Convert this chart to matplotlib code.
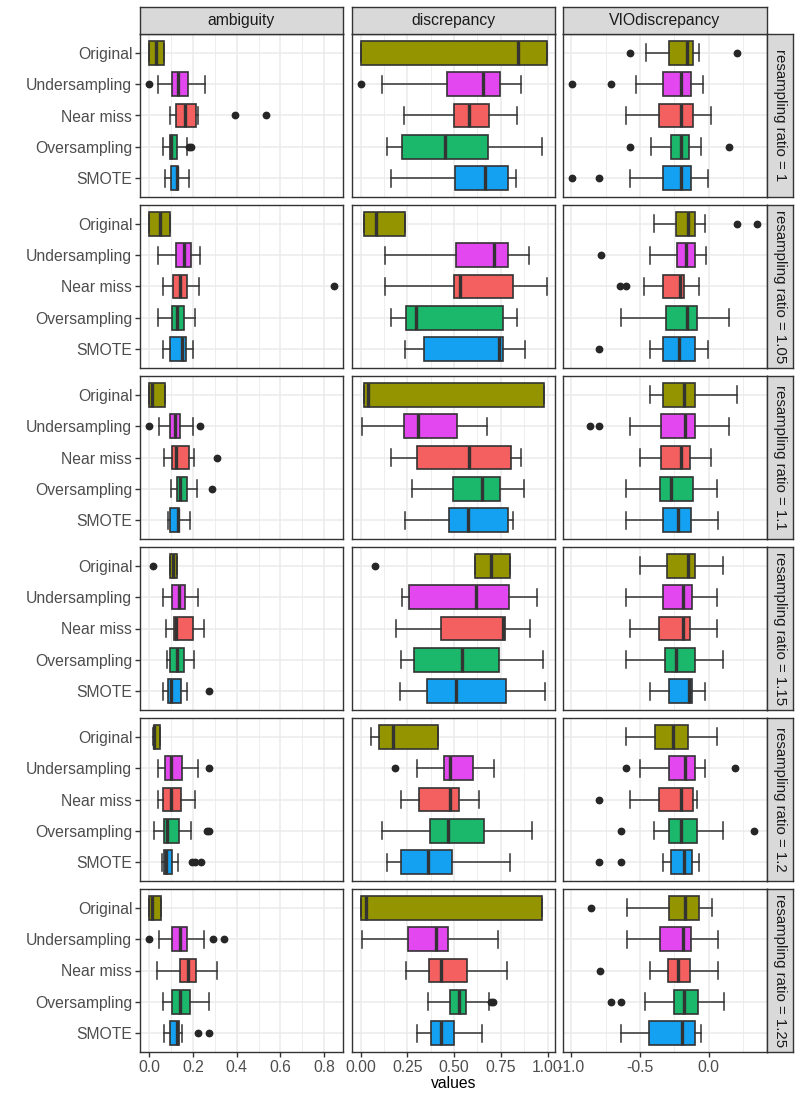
import matplotlib
matplotlib.use("Agg")
import matplotlib.pyplot as plt
from matplotlib.ticker import FixedLocator

plt.rcParams["font.family"] = ["Liberation Sans", "DejaVu Sans"]

methods = ["Original", "Undersampling", "Near miss", "Oversampling", "SMOTE"]
ratios = ["1", "1.05", "1.1", "1.15", "1.2", "1.25"]
metrics = ["ambiguity", "discrepancy", "VIOdiscrepancy"]
fills = ["#949400", "#E348F0", "#F45F5F", "#1BB76B", "#14A1F2"]

# rows = resampling ratio, columns = methods (order as in `methods`)
amb_lo = [[0.0, 0.040, 0.095, 0.062, 0.070],
          [0.0, 0.040, 0.062, 0.039, 0.061],
          [0.0, 0.046, 0.068, 0.099, 0.084],
          [0.097, 0.062, 0.075, 0.083, 0.062],
          [0.018, 0.042, 0.042, 0.024, 0.057],
          [0.0, 0.046, 0.037, 0.061, 0.066]]
amb_q1 = [[0.0, 0.106, 0.121, 0.094, 0.099],
          [0.0, 0.123, 0.110, 0.103, 0.094],
          [0.0, 0.097, 0.103, 0.127, 0.097],
          [0.097, 0.106, 0.114, 0.097, 0.086],
          [0.020, 0.073, 0.061, 0.068, 0.068],
          [0.0, 0.103, 0.143, 0.106, 0.097]]
amb_med = [[0.031, 0.132, 0.165, 0.101, 0.125],
           [0.050, 0.158, 0.139, 0.128, 0.152],
           [0.011, 0.119, 0.121, 0.139, 0.130],
           [0.110, 0.138, 0.123, 0.125, 0.099],
           [0.024, 0.101, 0.101, 0.083, 0.075],
           [0.015, 0.139, 0.176, 0.143, 0.127]]
amb_q3 = [[0.068, 0.178, 0.213, 0.128, 0.130],
          [0.095, 0.191, 0.171, 0.158, 0.167],
          [0.070, 0.143, 0.183, 0.174, 0.136],
          [0.127, 0.163, 0.202, 0.160, 0.145],
          [0.051, 0.152, 0.145, 0.136, 0.103],
          [0.055, 0.171, 0.215, 0.185, 0.134]]
amb_hi = [[0.068, 0.257, 0.222, 0.171, 0.183],
          [0.095, 0.233, 0.228, 0.211, 0.202],
          [0.070, 0.198, 0.204, 0.217, 0.187],
          [0.127, 0.224, 0.251, 0.206, 0.174],
          [0.051, 0.222, 0.209, 0.191, 0.130],
          [0.055, 0.250, 0.308, 0.275, 0.150]]
amb_out = [[[], [0.0], [0.391, 0.536], [0.183, 0.190], []],
           [[], [], [0.844], [], []],
           [[], [0.0, 0.233], [0.310], [0.288], []],
           [[0.017], [], [], [], [0.275]],
           [[], [0.273], [], [0.262, 0.272], [0.196, 0.211, 0.239]],
           [[], [0.0, 0.290, 0.341], [], [], [0.222, 0.275]]]

disc_lo = [[0.0, 0.116, 0.234, 0.142, 0.163],
           [0.015, 0.129, 0.131, 0.163, 0.239],
           [0.019, 0.004, 0.163, 0.275, 0.239],
           [0.613, 0.219, 0.191, 0.217, 0.211],
           [0.054, 0.299, 0.213, 0.112, 0.138],
           [0.002, 0.004, 0.241, 0.361, 0.299]]
disc_q1 = [[0.0, 0.462, 0.499, 0.219, 0.503],
           [0.015, 0.510, 0.499, 0.243, 0.338],
           [0.019, 0.230, 0.303, 0.495, 0.473],
           [0.613, 0.256, 0.430, 0.284, 0.355],
           [0.099, 0.443, 0.312, 0.370, 0.215],
           [0.002, 0.252, 0.363, 0.477, 0.376]]
disc_med = [[0.843, 0.652, 0.581, 0.452, 0.665],
            [0.080, 0.716, 0.529, 0.297, 0.742],
            [0.041, 0.305, 0.578, 0.649, 0.576],
            [0.695, 0.615, 0.763, 0.544, 0.512],
            [0.170, 0.477, 0.477, 0.469, 0.359],
            [0.030, 0.404, 0.430, 0.527, 0.428]]
disc_q3 = [[0.998, 0.746, 0.688, 0.680, 0.791],
           [0.237, 0.787, 0.817, 0.761, 0.759],
           [0.983, 0.516, 0.806, 0.744, 0.787],
           [0.800, 0.796, 0.770, 0.742, 0.776],
           [0.413, 0.600, 0.527, 0.658, 0.490],
           [0.968, 0.465, 0.570, 0.561, 0.501]]
disc_hi = [[0.998, 0.856, 0.839, 0.968, 0.830],
           [0.237, 0.901, 0.998, 0.837, 0.882],
           [0.983, 0.675, 0.858, 0.875, 0.817],
           [0.800, 0.942, 0.908, 0.978, 0.989],
           [0.413, 0.714, 0.634, 0.918, 0.798],
           [0.968, 0.733, 0.781, 0.688, 0.647]]
disc_out = [[[], [0.0], [], [], []],
            [[], [], [], [], []],
            [[], [], [], [], []],
            [[0.075], [], [], [], []],
            [[], [0.181], [], [], []],
            [[], [], [], [0.699, 0.708], []]]

vio_lo = [[-0.458, -0.531, -0.598, -0.417, -0.571],
          [-0.399, -0.429, -0.469, -0.641, -0.429],
          [-0.429, -0.571, -0.501, -0.598, -0.598],
          [-0.501, -0.598, -0.571, -0.598, -0.429],
          [-0.598, -0.501, -0.571, -0.399, -0.332],
          [-0.595, -0.595, -0.425, -0.466, -0.639]]
vio_q1 = [[-0.286, -0.335, -0.359, -0.277, -0.335],
          [-0.236, -0.233, -0.335, -0.312, -0.335],
          [-0.335, -0.347, -0.347, -0.356, -0.335],
          [-0.300, -0.335, -0.359, -0.315, -0.286],
          [-0.388, -0.286, -0.359, -0.286, -0.274],
          [-0.287, -0.355, -0.293, -0.255, -0.437]]
vio_med = [[-0.160, -0.201, -0.201, -0.198, -0.198],
           [-0.152, -0.166, -0.207, -0.160, -0.213],
           [-0.178, -0.175, -0.201, -0.277, -0.224],
           [-0.149, -0.184, -0.184, -0.239, -0.143],
           [-0.257, -0.175, -0.201, -0.204, -0.178],
           [-0.173, -0.185, -0.223, -0.176, -0.196]]
vio_q3 = [[-0.111, -0.128, -0.117, -0.146, -0.125],
          [-0.099, -0.102, -0.178, -0.087, -0.102],
          [-0.096, -0.099, -0.134, -0.111, -0.125],
          [-0.096, -0.120, -0.134, -0.102, -0.122],
          [-0.152, -0.102, -0.117, -0.085, -0.120],
          [-0.073, -0.129, -0.135, -0.076, -0.097]]
vio_hi = [[-0.073, -0.041, 0.015, -0.058, -0.006],
          [-0.029, -0.017, -0.073, 0.149, -0.006],
          [0.207, 0.149, 0.015, 0.061, 0.067],
          [0.105, 0.061, 0.061, 0.105, -0.026],
          [0.061, -0.026, -0.082, 0.105, -0.067],
          [0.021, 0.067, 0.067, 0.111, -0.056]]
vio_out = [[[-0.571, 0.207], [-0.997, -0.714], [], [-0.571, 0.149], [-0.997, -0.799]],
           [[0.207, 0.350], [-0.784], [-0.647, -0.601], [], [-0.799]],
           [[], [-0.866, -0.799], [], [], []],
           [[], [], [], [], []],
           [[], [-0.601, 0.195], [-0.799], [-0.641, 0.327], [-0.799, -0.641]],
           [[-0.853], [], [-0.789], [-0.713, -0.639], []]]

# per-metric tables and x scales (free scales per column)
tables = [
    (amb_lo, amb_q1, amb_med, amb_q3, amb_hi, amb_out),
    (disc_lo, disc_q1, disc_med, disc_q3, disc_hi, disc_out),
    (vio_lo, vio_q1, vio_med, vio_q3, vio_hi, vio_out),
]
xlims = [(-0.042, 0.886), (-0.047, 1.040), (-1.060, 0.425)]
major_ticks = [[0.0, 0.2, 0.4, 0.6, 0.8],
               [0.0, 0.25, 0.5, 0.75, 1.0],
               [-1.0, -0.5, 0.0]]
minor_ticks = [[0.1, 0.3, 0.5, 0.7],
               [0.125, 0.375, 0.625, 0.875],
               [-0.75, -0.25, 0.25]]
tick_fmt = ["{:.1f}", "{:.2f}", "{:.1f}"]

W, H = 800, 1100
col_x = [(140, 343), (352, 555), (563, 767)]
row_top = [34, 205, 376, 547, 718, 889]
panel_h = 163
dark = "#333333"
fs = 11.3


def rect(x0, y0, x1, y1):
    return [x0 / W, 1 - y1 / H, (x1 - x0) / W, (y1 - y0) / H]


fig = plt.figure(figsize=(8, 11), dpi=100)
positions = list(range(len(methods), 0, -1))  # Original on top

for r, ratio in enumerate(ratios):
    for c, metric in enumerate(metrics):
        lo, q1, med, q3, hi, out = tables[c]
        x0, x1 = col_x[c]
        ax = fig.add_axes(rect(x0, row_top[r], x1, row_top[r] + panel_h))
        stats = []
        for m, name in enumerate(methods):
            stats.append({"label": name, "whislo": lo[r][m], "q1": q1[r][m],
                          "med": med[r][m], "q3": q3[r][m],
                          "whishi": hi[r][m], "fliers": out[r][m]})
        art = ax.bxp(stats, positions=positions, widths=0.75,
                     orientation="horizontal", patch_artist=True,
                     showfliers=True, capwidths=0.55,
                     boxprops=dict(edgecolor=dark, linewidth=1.2),
                     whiskerprops=dict(color=dark, linewidth=1.1),
                     capprops=dict(color=dark, linewidth=1.1),
                     medianprops=dict(color=dark, linewidth=2.4),
                     flierprops=dict(marker="o", markersize=4.6,
                                     markerfacecolor="#262626",
                                     markeredgecolor="#262626"))
        for patch, col in zip(art["boxes"], fills):
            patch.set_facecolor(col)

        ax.set_xlim(*xlims[c])
        ax.set_ylim(0.4, len(methods) + 0.6)
        ax.xaxis.set_major_locator(FixedLocator(major_ticks[c]))
        ax.xaxis.set_minor_locator(FixedLocator(minor_ticks[c]))
        ax.set_yticks(positions)
        ax.set_axisbelow(True)
        ax.grid(which="major", color="#EBEBEB", linewidth=1.1)
        ax.grid(which="minor", axis="x", color="#EBEBEB", linewidth=0.6)
        for sp in ax.spines.values():
            sp.set_color(dark)
            sp.set_linewidth(1.0)

        ax.tick_params(which="minor", length=0)
        ax.tick_params(which="major", color=dark, width=1.0, length=3.5,
                       labelsize=fs, labelcolor="#4D4D4D", pad=2)
        if c == 0:
            ax.set_yticklabels(methods)
        else:
            ax.tick_params(axis="y", length=0, labelleft=False)
        if r == len(ratios) - 1:
            ax.set_xticklabels([tick_fmt[c].format(t) for t in major_ticks[c]])
        else:
            ax.tick_params(axis="x", length=0, labelbottom=False)

        # top strips
        if r == 0:
            sx = fig.add_axes(rect(x0, 7, x1, 34))
            sx.set_facecolor("#D9D9D9")
            sx.set_xticks([])
            sx.set_yticks([])
            for sp in sx.spines.values():
                sp.set_color(dark)
                sp.set_linewidth(1.0)
            sx.text(0.5, 0.5, metric, ha="center", va="center",
                    fontsize=fs, color="#1A1A1A", transform=sx.transAxes)

    # right strip
    sy = fig.add_axes(rect(767, row_top[r], 793, row_top[r] + panel_h))
    sy.set_facecolor("#D9D9D9")
    sy.set_xticks([])
    sy.set_yticks([])
    for sp in sy.spines.values():
        sp.set_color(dark)
        sp.set_linewidth(1.0)
    sy.text(0.5, 0.5, "resampling ratio = " + ratio, ha="center", va="center",
            rotation=-90, fontsize=10.8, color="#1A1A1A", transform=sy.transAxes)

fig.text(453.5 / W, 1 - 1083 / H, "values", ha="center", va="center",
         fontsize=fs, color="black")

fig.savefig("out.png", dpi=100, facecolor="white")
